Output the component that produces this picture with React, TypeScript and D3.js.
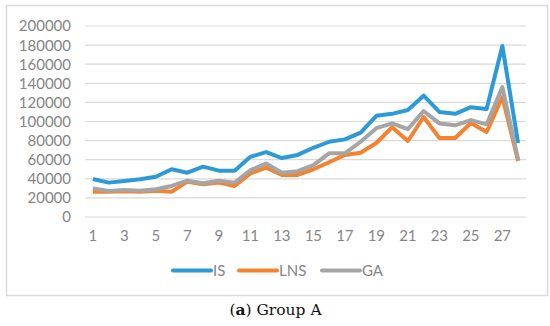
import * as d3 from "d3";
import { useEffect, useRef } from "react";

const categories = d3.range(1, 29).map(String);
const isValues = [
  39800, 36000, 37700, 39500, 42200, 50000, 46400, 52700, 48500, 48500, 63000, 68000, 61700, 65000,
  72500, 78800, 81300, 88300, 106000, 108000, 112000, 127000, 110000, 108000, 115000, 113000, 179000, 77500,
];
const lnsValues = [
  26500, 26500, 27000, 26500, 27500, 26500, 37000, 34200, 36000, 32500, 45700, 51600, 44000, 44000,
  50000, 57300, 65000, 67300, 77500, 94000, 79600, 104700, 82700, 82700, 98400, 89000, 125600, 58600,
];
const gaValues = [
  30000, 27200, 28300, 27600, 29000, 32500, 38000, 35300, 38000, 36000, 49000, 56000, 46400, 48000,
  54400, 66700, 66700, 78800, 93000, 98000, 92000, 111000, 98000, 96000, 101500, 97000, 136000, 60000,
];
const yTicks = [0, 20000, 40000, 60000, 80000, 100000, 120000, 140000, 160000, 180000, 200000];

const series = [
  { name: "IS", values: isValues, color: "#2b9ad6" },
  { name: "LNS", values: lnsValues, color: "#f5822f" },
  { name: "GA", values: gaValues, color: "#a5a5a5" },
];

export default function App() {
  const ref = useRef<SVGSVGElement>(null);

  useEffect(() => {
    const svg = d3.select(ref.current);
    svg.selectAll("*").remove();

    const left = 85, right = 526, top = 26, bottom = 217;
    const x = d3.scalePoint().domain(categories).range([left, right]).padding(0.5);
    const y = d3.scaleLinear().domain([0, 200000]).range([bottom, top]);
    const font = "Lato, 'Noto Sans', sans-serif";

    // frame
    svg.append("rect")
      .attr("x", 6.5).attr("y", 5.5).attr("width", 541).attr("height", 290)
      .attr("fill", "#fff").attr("stroke", "#d9d9d9").attr("stroke-width", 1.5);

    // grid + y labels
    svg.append("g").selectAll("line").data(yTicks).join("line")
      .attr("x1", left).attr("x2", right)
      .attr("y1", (d) => y(d)).attr("y2", (d) => y(d))
      .attr("stroke", "#d9d9d9").attr("stroke-width", 1.2);

    svg.append("g").selectAll("text").data(yTicks).join("text")
      .attr("x", 71).attr("y", (d) => y(d)).attr("dy", "0.36em")
      .attr("text-anchor", "end").attr("font-family", font).attr("font-size", 15)
      .attr("fill", "#858585").text((d) => String(d));

    // x labels (every other)
    svg.append("g").selectAll("text")
      .data(categories.filter((_, i) => i % 2 === 0)).join("text")
      .attr("x", (d) => x(d)!).attr("y", 241)
      .attr("text-anchor", "middle").attr("font-family", font).attr("font-size", 15)
      .attr("fill", "#858585").text((d) => d);

    const line = d3.line<number>()
      .x((_, i) => x(categories[i])!)
      .y((d) => y(d));

    svg.append("g").selectAll("path").data(series).join("path")
      .attr("d", (s) => line(s.values))
      .attr("fill", "none").attr("stroke", (s) => s.color)
      .attr("stroke-width", 4).attr("stroke-linejoin", "round");

    // legend
    const legendX = [173, 239, 322];
    const lg = svg.append("g").selectAll("g").data(series).join("g")
      .attr("transform", (_, i) => `translate(${legendX[i]},270.5)`);
    lg.append("line").attr("x1", 0).attr("x2", 38)
      .attr("stroke", (s) => s.color).attr("stroke-width", 4).attr("stroke-linecap", "round");
    lg.append("text").attr("x", 40).attr("dy", "0.36em")
      .attr("font-family", font).attr("font-size", 15).attr("fill", "#858585")
      .text((s) => s.name);

    // caption
    const cap = svg.append("text").attr("x", 275.5).attr("y", 314.5).attr("text-anchor", "middle")
      .attr("font-family", "'DejaVu Serif', 'Liberation Serif', serif").attr("font-size", 15.5).attr("fill", "#111");
    cap.append("tspan").text("(");
    cap.append("tspan").attr("font-weight", "bold").text("a");
    cap.append("tspan").text(") Group A");
  }, []);

  return (
    <svg ref={ref} width={550} height={326} style={{ position: "absolute", left: 0, top: 0 }} />
  );
}
